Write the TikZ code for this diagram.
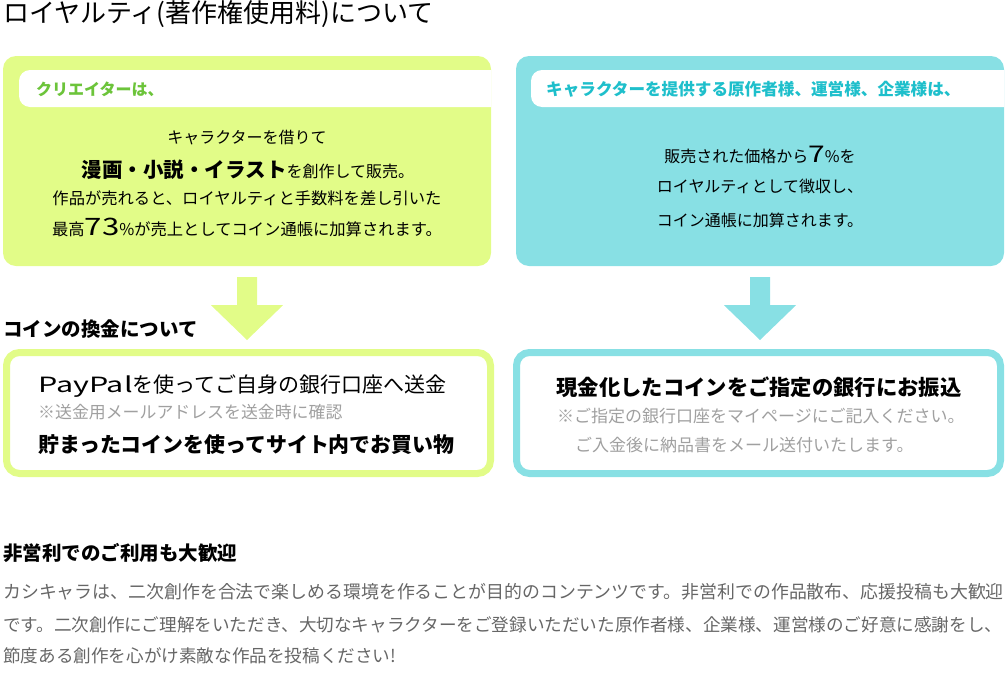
\documentclass[tikz,border=0pt]{standalone}
\usepackage{fontspec}
\setmainfont{Noto Sans CJK JP}
\usetikzlibrary{calc}
\definecolor{gbg}{HTML}{E2FC88}
\definecolor{bbg}{HTML}{88E0E4}
\definecolor{gtxt}{HTML}{6CC43A}
\definecolor{btxt}{HTML}{1EBFCB}
\definecolor{note}{HTML}{A0A0A0}
\definecolor{para}{HTML}{666666}
\newcommand{\fs}[1]{\fontsize{#1}{#1}\selectfont}
\begin{document}
\begin{tikzpicture}[x=1pt,y=-1pt,
  txt/.style={inner sep=0pt, font=\fs{16}},
  panel/.style={inner sep=0pt, rounded corners=13, minimum width=488, minimum height=210},
  cashbox/.style={inner sep=0pt, fill=white, line width=7, rounded corners=13, minimum width=484, minimum height=121}]
\useasboundingbox (0,0) rectangle (1008,672);

% title
\node[txt, anchor=west, font=\fs{26}] (title) at (3,14) {ロイヤルティ(著作権使用料)について};

% upper panels
\node[panel, fill=gbg] (gbox) at (247,161) {};
\node[panel, fill=bbg] (bbox) at (760,161) {};
\begin{scope}
  \clip (0,0) rectangle (491,672);
  \fill[white, rounded corners=11] (19,70) rectangle (520,107);
\end{scope}
\begin{scope}
  \clip (0,0) rectangle (1004,672);
  \fill[white, rounded corners=11] (531,70) rectangle (1040,107);
\end{scope}
\node[txt, anchor=west, font=\bfseries\fs{16}, text=gtxt] (gtab) at (36,89) {クリエイターは、};
\node[txt, anchor=west, font=\bfseries\fs{16.6}, text=btxt] (btab) at (546,89) {キャラクターを提供する原作者様、運営様、企業様は、};

\node[txt] (g1) at (247,138) {キャラクターを借りて};
\node[txt] (g2) at (248,170) {{\bfseries\fs{20.5}漫画・小説・イラスト}を創作して販売。};
\node[txt, font=\fs{16.3}] (g3) at (247,198) {作品が売れると、ロイヤルティと手数料を差し引いた};
\node[txt, font=\fs{16.3}] (g4) at (247,227) {最高{\fs{24}\scalebox{1.3}[1]{73}}\%が売上としてコイン通帳に加算されます。};

\node[txt] (b1) at (760,155) {販売された価格から{\fs{23}\scalebox{1.3}[1]{7}}\%を};
\node[txt] (b2) at (760,186) {ロイヤルティとして徴収し、};
\node[txt] (b3) at (760,220) {コイン通帳に加算されます。};

% lower boxes
\node[txt, anchor=west, font=\bfseries\fs{19.5}] (coin) at (3,329) {コインの換金について};
\node[cashbox, draw=gbg] (gcash) at (248.5,413) {};
\node[cashbox, draw=bbg] (bcash) at (758.5,413) {};

% arrows
\coordinate (ga) at ($(gbox.south)+(0,11)$);
\coordinate (gb) at ($(gbox.south |- gcash.north)+(0,-9)$);
\fill[gbg] ($(ga)+(-10,0)$) -- ($(ga)+(10,0)$) -- ($(ga)+(10,28)$) -- ($(ga)+(36,28)$) -- (gb) -- ($(ga)+(-36,28)$) -- ($(ga)+(-10,28)$) -- cycle;
\coordinate (ba) at ($(bbox.south)+(0,11)$);
\coordinate (bb) at ($(bbox.south |- bcash.north)+(0,-9)$);
\fill[bbg] ($(ba)+(-10,0)$) -- ($(ba)+(10,0)$) -- ($(ba)+(10,28)$) -- ($(ba)+(36,28)$) -- (bb) -- ($(ba)+(-36,28)$) -- ($(ba)+(-10,28)$) -- cycle;

\node[txt, anchor=west, font=\fs{21}] (l1) at (38,386) {\scalebox{1.45}[1]{PayPal}を使ってご自身の銀行口座へ送金};
\node[txt, anchor=west, font=\fs{16.9}, text=note] (l2) at (38,412) {※送金用メールアドレスを送金時に確認};
\node[txt, anchor=west, font=\bfseries\fs{20.9}] (l3) at (38,445) {貯まったコインを使ってサイト内でお買い物};

\node[txt, font=\bfseries\fs{21.3}] (r1) at (759,387) {現金化したコインをご指定の銀行にお振込};
\node[txt, anchor=west, font=\fs{17}, text=note] (r2) at (557,416) {※ご指定の銀行口座をマイページにご記入ください。};
\node[txt, anchor=west, font=\fs{17}, text=note] (r3) at (575,445) {ご入金後に納品書をメール送付いたします。};

% bottom paragraph
\node[txt, anchor=west, font=\bfseries\fs{19.5}] (np) at (3,553) {非営利でのご利用も大歓迎};
\node[txt, anchor=west, font=\fs{17.9}, text=para] (p1) at (3,592) {カシキャラは、二次創作を合法で楽しめる環境を作ることが目的のコンテンツです。非営利での作品散布、応援投稿も大歓迎};
\node[txt, anchor=west, font=\fs{17.6}, text=para] (p2) at (3,625) {です。二次創作にご理解をいただき、大切なキャラクターをご登録いただいた原作者様、企業様、運営様のご好意に感謝をし、};
\node[txt, anchor=west, font=\fs{17.6}, text=para] (p3) at (3,656) {節度ある創作を心がけ素敵な作品を投稿ください!};
\end{tikzpicture}
\end{document}
